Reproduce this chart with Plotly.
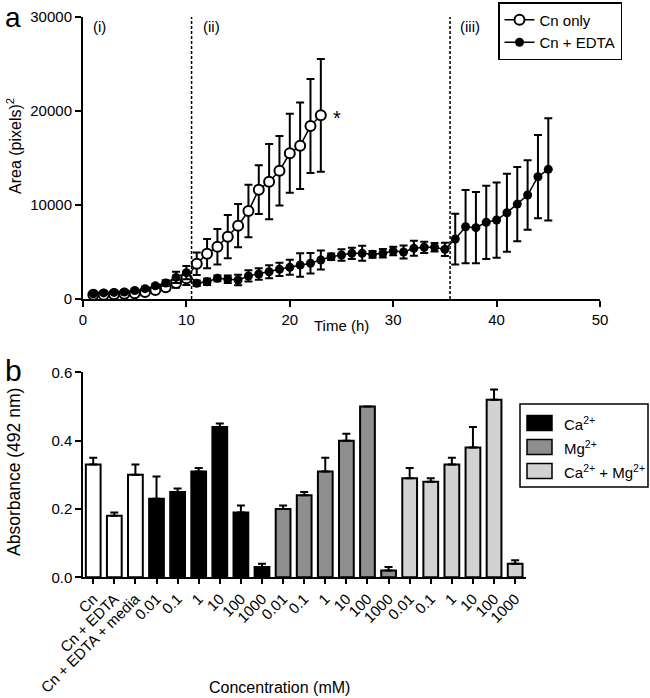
import plotly.graph_objects as go

W, H = 650, 698

# panel a: lesion area over time
time_cn = list(range(1, 24))
area_cn = [450, 450, 500, 550, 600, 750, 950, 1250, 1700, 2200,
           3760, 4820, 5560, 6630, 7800, 9360, 11630, 12480, 13650, 15500,
           16300, 18400, 19540]
err_cn = [100, 100, 100, 100, 150, 150, 200, 250, 500, 700,
          1200, 1550, 1900, 2300, 2300, 2800, 2600, 4000, 3700, 4200,
          4600, 5000, 6000]

time_edta = list(range(1, 46))
area_edta = [550, 650, 700, 750, 900, 1100, 1400, 1700, 2300, 2800,
             1670, 1840, 2200, 2100, 2020, 2450, 2660, 2900, 3160, 3370,
             3620, 3800, 4150, 4500, 4680, 4860, 4860, 4750, 4860, 5100,
             5000, 5390, 5500, 5500, 5280, 6380, 7690, 7590, 8160, 8400,
             9180, 10100, 11060, 13010, 13790]
err_edta = [100, 100, 100, 150, 150, 200, 200, 300, 600, 700,
            300, 350, 300, 400, 550, 600, 600, 700, 700, 800,
            1250, 1100, 1000, 350, 600, 600, 800, 350, 450, 450,
            700, 800, 600, 450, 700, 2700, 3900, 3800, 3900, 4000,
            4150, 3950, 3700, 4430, 5430]

phase_lines = [10.5, 35.5]
phase_labels = ["(i)", "(ii)", "(iii)"]
phase_label_x = [1.6, 12.4, 37.4]

# panel b: absorbance
conc = ["0.01", "0.1", "1", "10", "100", "1000"]
bar_labels = ["Cn", "Cn + EDTA", "Cn + EDTA + media"] + conc * 3
ctrl_vals = [0.33, 0.18, 0.30]
ctrl_err = [0.02, 0.01, 0.03]
ca_vals = [0.23, 0.25, 0.31, 0.44, 0.19, 0.03]
ca_err = [0.065, 0.01, 0.01, 0.01, 0.02, 0.01]
mg_vals = [0.20, 0.24, 0.31, 0.40, 0.50, 0.02]
mg_err = [0.01, 0.01, 0.04, 0.02, 0.0, 0.01]
camg_vals = [0.29, 0.28, 0.33, 0.38, 0.52, 0.04]
camg_err = [0.03, 0.01, 0.02, 0.06, 0.03, 0.01]

legend_b = ["Ca<sup>2+</sup>", "Mg<sup>2+</sup>", "Ca<sup>2+</sup> + Mg<sup>2+</sup>"]
col_ca, col_mg, col_camg = "#000000", "#8e8e8e", "#d2d2d2"

FONT = "Liberation Sans, Arial, sans-serif"


def px(x):
    return x / W


def py(y):
    return 1 - y / H


fig = go.Figure()

fig.add_trace(go.Scatter(
    x=time_cn, y=area_cn, name="Cn only", mode="lines+markers",
    line=dict(color="black", width=1.5),
    marker=dict(symbol="circle", size=10, color="white",
                line=dict(color="black", width=2)),
    error_y=dict(type="data", array=err_cn, color="black", thickness=2, width=4),
    xaxis="x", yaxis="y", legend="legend",
))
fig.add_trace(go.Scatter(
    x=time_edta, y=area_edta, name="Cn + EDTA", mode="lines+markers",
    line=dict(color="black", width=1.5),
    marker=dict(symbol="circle", size=9, color="black"),
    error_y=dict(type="data", array=err_edta, color="black", thickness=2, width=4),
    xaxis="x", yaxis="y", legend="legend",
))

groups = [
    (0, ctrl_vals, ctrl_err, "white"),
    (3, ca_vals, ca_err, col_ca),
    (9, mg_vals, mg_err, col_mg),
    (15, camg_vals, camg_err, col_camg),
]
for start, vals, errs, col in groups:
    fig.add_trace(go.Bar(
        x=list(range(start, start + len(vals))), y=vals, width=0.7,
        marker=dict(color=col, line=dict(color="black", width=2)),
        error_y=dict(type="data", array=errs, arrayminus=[0] * len(errs),
                     symmetric=False, color="black", thickness=2, width=4),
        showlegend=False, xaxis="x2", yaxis="y2",
    ))

axis_common = dict(showline=True, linecolor="black", linewidth=2, ticks="outside",
                   ticklen=6, tickwidth=2, tickcolor="black", showgrid=False,
                   zeroline=False, automargin=False,
                   tickfont=dict(size=15, color="black"))

fig.update_layout(
    width=W, height=H,
    margin=dict(l=0, r=0, t=0, b=0, autoexpand=False),
    paper_bgcolor="white", plot_bgcolor="white",
    font=dict(family=FONT, color="black"),
    barmode="overlay",
    xaxis=dict(domain=[px(83), px(600)], range=[0, 50], tickvals=[0, 10, 20, 30, 40, 50],
               anchor="y", **axis_common),
    yaxis=dict(domain=[py(299), py(17)], range=[0, 30000], tickvals=[0, 10000, 20000, 30000],
               tickformat="d", anchor="x", **axis_common),
    xaxis2=dict(domain=[px(83.3), px(525.7)], range=[-0.47, 20.5],
                tickvals=list(range(len(bar_labels))), ticktext=bar_labels,
                tickangle=-45, anchor="y2",
                **{**axis_common, "tickfont": dict(size=15, color="black"), "ticklen": 5}),
    yaxis2=dict(domain=[py(577.3), py(372.3)], range=[0, 0.6], tickvals=[0, 0.2, 0.4, 0.6],
                tickformat=".1f", anchor="x2", **axis_common),
    legend=dict(x=px(498), y=py(2), xanchor="left", yanchor="top",
                bordercolor="black", borderwidth=1.5, bgcolor="white",
                font=dict(size=15, color="black"), tracegroupgap=0),
)

shapes = []
for xv in phase_lines:
    shapes.append(dict(type="line", xref="x", yref="y", x0=xv, x1=xv, y0=0, y1=30000,
                       line=dict(color="black", width=1.5, dash="3px,2px")))

# legend for panel b
shapes.append(dict(type="rect", xref="paper", yref="paper",
                   x0=px(520), x1=px(648), y0=py(487), y1=py(404),
                   line=dict(color="black", width=1.5), fillcolor="white"))
annotations = []
for i, (lab, col) in enumerate(zip(legend_b, [col_ca, col_mg, col_camg])):
    yc = 423 + i * 24
    shapes.append(dict(type="rect", xref="paper", yref="paper",
                       x0=px(527), x1=px(552), y0=py(yc + 7.5), y1=py(yc - 7.5),
                       line=dict(color="black", width=1.5), fillcolor=col))
    annotations.append(dict(text=lab, xref="paper", yref="paper", x=px(562), y=py(yc),
                            xanchor="left", yanchor="middle", showarrow=False,
                            font=dict(size=15)))

for lab, xv in zip(phase_labels, phase_label_x):
    annotations.append(dict(text=lab, xref="x", yref="y", x=xv, y=29000,
                            xanchor="center", yanchor="middle", showarrow=False,
                            font=dict(size=15)))
annotations.append(dict(text="*", xref="x", yref="y", x=24.6, y=19300,
                        showarrow=False, font=dict(size=20)))

# titles and panel letters
annotations += [
    dict(text="a", x=px(13), y=py(0), yanchor="top", font=dict(size=28)),
    dict(text="b", x=px(13), y=py(370), font=dict(size=30)),
    dict(text="Area (pixels)<sup>2</sup>", x=px(14), y=py(146), textangle=-90, font=dict(size=16)),
    dict(text="Absorbance (492 nm)", x=px(14), y=py(472), textangle=-90, font=dict(size=17.5)),
    dict(text="Time (h)", x=px(341), y=py(325), font=dict(size=15)),
    dict(text="Concentration (mM)", x=px(279), y=py(687), font=dict(size=16)),
]
for a in annotations[-6:]:
    a.update(xref="paper", yref="paper", showarrow=False, xanchor="center")
    a.setdefault("yanchor", "middle")

fig.update_layout(shapes=shapes, annotations=annotations)

fig.write_html("out.html", config={"displayModeBar": False},
               post_script="document.body.style.margin='0';")
